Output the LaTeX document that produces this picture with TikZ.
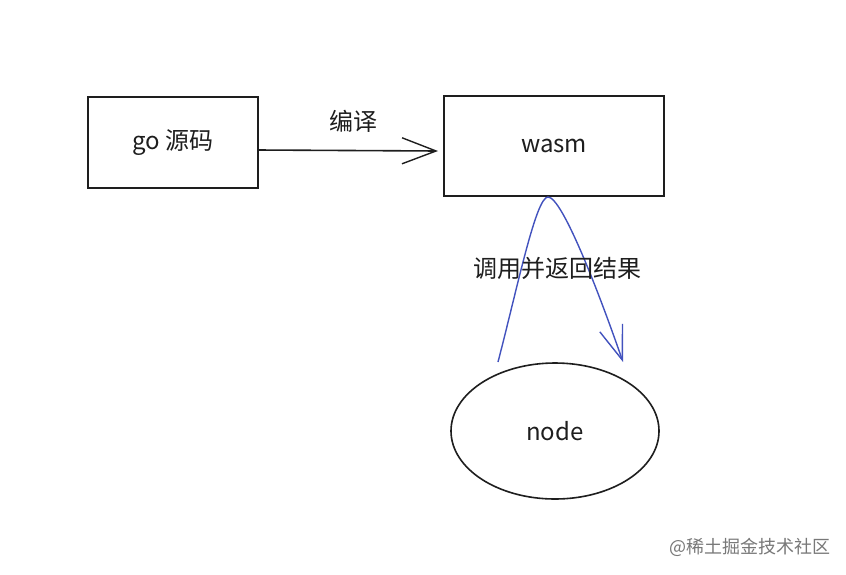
\documentclass[tikz,border=0pt]{standalone}
\usepackage{fontspec}
\setmainfont{Noto Sans CJK SC}
\usetikzlibrary{shapes.geometric,arrows.meta}
\definecolor{ink}{RGB}{30,30,30}
\definecolor{sketchblue}{RGB}{66,82,190}
\definecolor{wm}{RGB}{120,120,120}
\begin{document}
\begin{tikzpicture}[x=1pt,y=-1pt,
  sk/.style={draw=ink,line width=1.6pt},
  boxnode/.style={sk,rectangle,inner sep=0pt,font=\fontsize{24}{28}\selectfont,text=ink},
  lbl/.style={font=\fontsize{24}{28}\selectfont,text=ink,inner sep=0pt},
  barb/.style={-{Straight Barb[length=34pt,width=26pt,line width=1.4pt]}}]
\useasboundingbox (0,0) rectangle (846,574);
\fill[white] (0,0) rectangle (846,574);
\node[boxnode,minimum width=170pt,minimum height=91pt] (go) at (173,142.5) {go 源码};
\node[boxnode,minimum width=220pt,minimum height=100pt] (wasm) at (554,146) {wasm};
\node[boxnode,ellipse,minimum width=208pt,minimum height=136pt] (node) at (555,431) {node};
\coordinate (goout) at (258,150);
\coordinate (wasmin) at (438,151);
\draw[sk,barb] (goout) -- (wasmin);
\node[lbl] (bianyi) at (353,121) {编译};
\coordinate (s) at (498,362);
\coordinate (peak) at (548,197);
\coordinate (e) at (623,362);
\draw[draw=sketchblue,line width=1.4pt,-{Straight Barb[length=34pt,width=24pt,line width=1.4pt]}] (s) .. controls (518,285) and (536,197) .. (peak) .. controls (562,197) and (598,290) .. (e);
\node[lbl] (call) at (557,268) {调用并返回结果};
\node[font=\fontsize{18}{21}\selectfont,text=wm,inner sep=0pt] (wmark) at (750,547) {@稀土掘金技术社区};
\end{tikzpicture}
\end{document}
